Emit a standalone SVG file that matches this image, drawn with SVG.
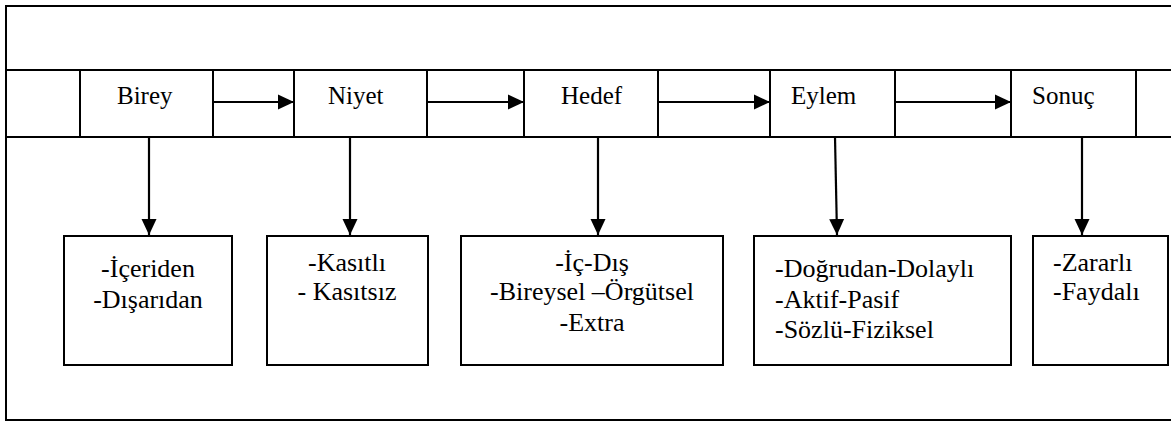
<svg xmlns="http://www.w3.org/2000/svg" width="1171" height="421" viewBox="0 0 1171 421">
<style>
text{font-size:25px;fill:#000}
.sub text{font-size:26px}
.frame{fill:none;stroke:#000;stroke-width:2}
.box{fill:#fff;stroke:#000;stroke-width:2}
.conn{stroke:#000;stroke-width:2.2;fill:none;marker-end:url(#ah)}
.mid{text-anchor:middle}
</style>
<defs>
<marker id="ah" markerUnits="userSpaceOnUse" markerWidth="16" markerHeight="16" viewBox="0 0 16 16" refX="16" refY="8" orient="auto">
<path d="M0,0.5 L16,8 L0,15.5 Z" fill="#000"/>
</marker>
</defs>
<rect width="1171" height="421" fill="#fff"/>
<g id="frame">
<path class="frame" d="M1171,6 H6 V420 H1171"/>
<path class="frame" d="M6,70 H1171 M6,137 H1171"/>
<path class="frame" d="M80,70 V137 M213,70 V137 M294,70 V137 M427,70 V137 M524,70 V137 M658,70 V137 M770,70 V137 M895,70 V137 M1011,70 V137 M1136,70 V137"/>
</g>
<g font-family="'Liberation Serif', 'DejaVu Serif', serif">
<g id="node-birey"><text x="117" y="104">Birey</text></g>
<g id="node-niyet"><text x="328" y="104">Niyet</text></g>
<g id="node-hedef"><text x="561" y="104">Hedef</text></g>
<g id="node-eylem"><text x="791" y="104">Eylem</text></g>
<g id="node-sonuc"><text x="1032" y="104">Sonuç</text></g>
<g id="node-b1" class="sub"><rect class="box" x="64" y="236" width="168" height="129"/>
<text class="mid" x="148" y="277">-İçeriden</text><text class="mid" x="148" y="308">-Dışarıdan</text></g>
<g id="node-b2" class="sub"><rect class="box" x="267" y="236" width="161" height="129"/>
<text class="mid" x="347" y="271">-Kasıtlı</text><text class="mid" x="347" y="300">- Kasıtsız</text></g>
<g id="node-b3" class="sub"><rect class="box" x="461" y="236" width="262" height="129"/>
<text class="mid" x="592" y="271">-İç-Dış</text><text class="mid" x="592" y="300">-Bireysel –Örgütsel</text><text class="mid" x="592" y="331">-Extra</text></g>
<g id="node-b4" class="sub"><rect class="box" x="754" y="236" width="257" height="129"/>
<text x="775" y="277">-Doğrudan-Dolaylı</text><text x="775" y="308">-Aktif-Pasif</text><text x="775" y="338">-Sözlü-Fiziksel</text></g>
<g id="node-b5" class="sub"><rect class="box" x="1033" y="236" width="135" height="129"/>
<text x="1053" y="271">-Zararlı</text><text x="1053" y="300">-Faydalı</text></g>
</g>
<g id="connectors">
<path class="conn" d="M213,102 H294"/>
<path class="conn" d="M427,102 H524"/>
<path class="conn" d="M658,102 H770"/>
<path class="conn" d="M895,102 H1011"/>
<path class="conn" d="M149,137 V235"/>
<path class="conn" d="M350,137 V235"/>
<path class="conn" d="M598,137 V235"/>
<path class="conn" d="M835,137 L837,235"/>
<path class="conn" d="M1082,137 V235"/>
</g>
</svg>
